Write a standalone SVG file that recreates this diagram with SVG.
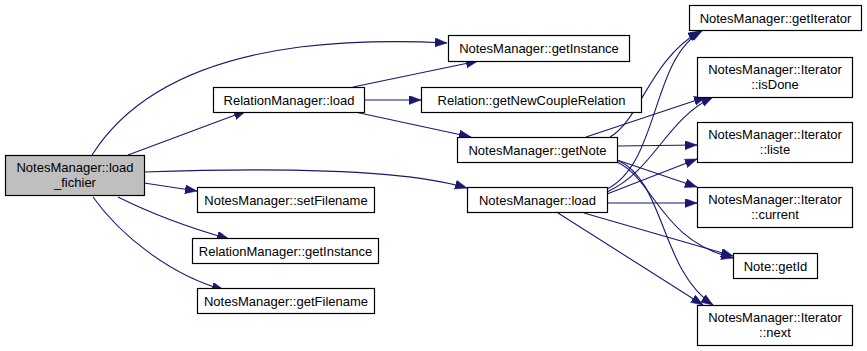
<svg xmlns="http://www.w3.org/2000/svg" width="867" height="351" viewBox="0 0 867 351">
  <style>
    .node rect { fill: #ffffff; stroke: #000000; stroke-width: 1.2; }
    .node.root rect { fill: #bfbfbf; }
    .node text { font-family: "Liberation Sans", Arial, sans-serif; font-size: 13px; fill: #000000; text-anchor: middle; }
    .edges path { fill: none; stroke: #191970; stroke-width: 1.1; marker-end: url(#arrow); }
  </style>
  <defs>
    <marker id="arrow" markerUnits="userSpaceOnUse" markerWidth="13" markerHeight="10" refX="12" refY="4.5" orient="auto">
      <path d="M0,0 L12,4.5 L0,9 z" fill="#191970" stroke="#191970" stroke-width="0.5"/>
    </marker>
  </defs>

  <rect width="867" height="351" fill="#ffffff"/>

  <!-- call edges -->
  <g class="edges">
    <!-- NotesManager::load_fichier -->
    <path d="M92,155 C130,95 200,60 300,47 C360,40 410,41 447,43"/>
    <path d="M128,155 L246,111"/>
    <path d="M144,172 C260,168 400,168 467,188"/>
    <path d="M144,183 L197,191"/>
    <path d="M118,197 C150,213 190,228 229,239"/>
    <path d="M93,197 C120,235 170,275 224,290"/>
    <!-- RelationManager::load -->
    <path d="M353,87 L478,61"/>
    <path d="M364,100 L421,100"/>
    <path d="M355,112 L471,137"/>
    <!-- NotesManager::getNote -->
    <path d="M610,137 C640,120 650,60 700,31"/>
    <path d="M586,137 L706,97"/>
    <path d="M617,146 L697,145"/>
    <path d="M617,160 L697,187"/>
    <path d="M617,162 C655,180 660,240 733,258"/>
    <path d="M617,160 C665,180 660,270 713,305"/>
    <!-- NotesManager::load -->
    <path d="M605,190 C660,165 650,60 702,31"/>
    <path d="M607,192 C655,170 665,120 713,97"/>
    <path d="M607,194 L697,159"/>
    <path d="M607,203 L697,203"/>
    <path d="M584,213 L733,256"/>
    <path d="M558,213 L703,305"/>
  </g>

  <g id="n_load_fichier" class="node root">
    <rect x="5.5" y="155.5" width="139" height="40"/>
    <text x="75" y="172">NotesManager::load</text>
    <text x="75" y="187">_fichier</text>
  </g>
  <g id="n_nm_getInstance" class="node">
    <rect x="448.5" y="35.5" width="181" height="26"/>
    <text x="539" y="53">NotesManager::getInstance</text>
  </g>
  <g id="n_rm_load" class="node">
    <rect x="213.5" y="87.5" width="151" height="25"/>
    <text x="289" y="104.5">RelationManager::load</text>
  </g>
  <g id="n_getNewCoupleRelation" class="node">
    <rect x="421.5" y="87.5" width="220" height="25"/>
    <text x="531.5" y="104.5">Relation::getNewCoupleRelation</text>
  </g>
  <g id="n_getNote" class="node">
    <rect x="457.5" y="137.5" width="160" height="25"/>
    <text x="537.5" y="154.5">NotesManager::getNote</text>
  </g>
  <g id="n_nm_load" class="node">
    <rect x="467.5" y="187.5" width="140" height="25"/>
    <text x="537.5" y="204.5">NotesManager::load</text>
  </g>
  <g id="n_setFilename" class="node">
    <rect x="197.5" y="187.5" width="177" height="25"/>
    <text x="286" y="204.5">NotesManager::setFilename</text>
  </g>
  <g id="n_rm_getInstance" class="node">
    <rect x="192.5" y="238.5" width="186" height="25"/>
    <text x="285.5" y="255.5">RelationManager::getInstance</text>
  </g>
  <g id="n_getFilename" class="node">
    <rect x="197.5" y="288.5" width="177" height="25"/>
    <text x="286" y="305.5">NotesManager::getFilename</text>
  </g>
  <g id="n_getIterator" class="node">
    <rect x="689.5" y="5.5" width="172" height="25"/>
    <text x="775.5" y="22.5">NotesManager::getIterator</text>
  </g>
  <g id="n_isDone" class="node">
    <rect x="697.5" y="57.5" width="155" height="40"/>
    <text x="775" y="74">NotesManager::Iterator</text>
    <text x="775" y="89">::isDone</text>
  </g>
  <g id="n_liste" class="node">
    <rect x="697.5" y="122.5" width="155" height="40"/>
    <text x="775" y="139">NotesManager::Iterator</text>
    <text x="775" y="154">::liste</text>
  </g>
  <g id="n_current" class="node">
    <rect x="697.5" y="187.5" width="155" height="40"/>
    <text x="775" y="204">NotesManager::Iterator</text>
    <text x="775" y="219">::current</text>
  </g>
  <g id="n_getId" class="node">
    <rect x="733.5" y="253.5" width="84" height="25"/>
    <text x="775.5" y="270.5">Note::getId</text>
  </g>
  <g id="n_next" class="node">
    <rect x="697.5" y="305.5" width="155" height="40"/>
    <text x="775" y="322">NotesManager::Iterator</text>
    <text x="775" y="337">::next</text>
  </g>
</svg>
